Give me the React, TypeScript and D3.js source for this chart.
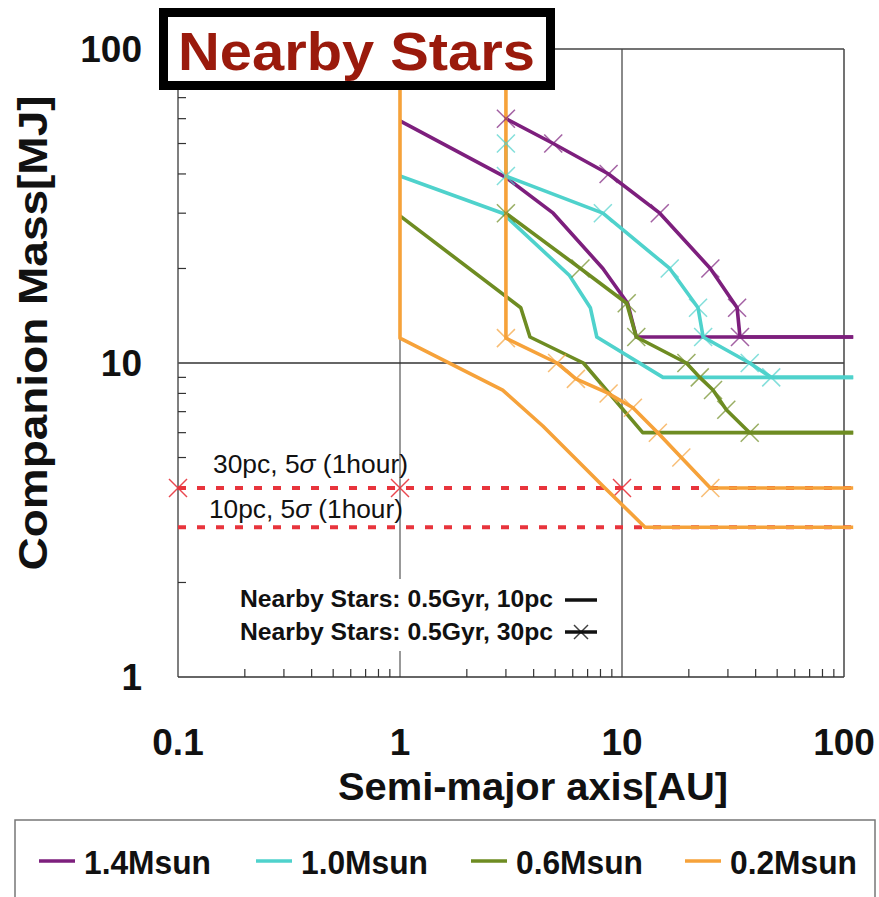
import * as d3 from "d3";

// semi-major axis [AU], companion mass [MJ]
const starNames = ["1.4Msun", "1.0Msun", "0.6Msun", "0.2Msun"];
const starColors = ["#7d1f7d", "#4fd2cc", "#6e8c22", "#f6a23a"];

// 10pc curves (solid)
const near14 = [[1, 59], [3, 39], [4.9, 30], [8.2, 20], [10.6, 15.5], [11.6, 12.1], [110, 12.1]];
const near10 = [[1, 39.4], [2.9, 30], [5.8, 19], [7.2, 15], [7.7, 12.1], [15.3, 9], [110, 9]];
const near06 = [[1, 29.4], [3.5, 15], [3.85, 12.1], [6.7, 10], [12.4, 6], [110, 6]];
const near02 = [[1, 100], [1, 12], [2.9, 8.2], [4.4, 6.3], [8.2, 4.06], [12.7, 3], [110, 3]];

// 30pc curves (with x markers)
const far14 = [[3, 60], [4.9, 50], [8.7, 40], [14.8, 30], [25, 20], [33, 15], [34, 12.1], [110, 12.1]];
const far10 = [[3, 50], [3, 39.4], [8.2, 30], [16.4, 20], [22, 15], [23.2, 12.1], [37.6, 10], [47, 9], [110, 9]];
const far06 = [[3, 30], [6.5, 20], [10.5, 15.5], [11.6, 12.1], [19.5, 10], [22.4, 9], [25.7, 8.2], [29.5, 7.1], [37.6, 6], [110, 6]];
const far02 = [[3, 100], [3, 12], [5.1, 10], [6.2, 8.9], [8.7, 8], [11.2, 7.2], [14.5, 6], [18.5, 5], [25, 4], [110, 4]];

// 5 sigma (1 hour) detection limits
const limit30pc = 4;
const limit10pc = 3;
const limitMarks = [0.1, 1, 10];

const xTicks = [0.1, 1, 10, 100];
const yTicks = [1, 10, 100];

const nearSeries = [near14, near10, near06, near02];
const farSeries = [far14, far10, far06, far02];

const W = 879, H = 897;
const x = d3.scaleLog().domain([0.1, 100]).range([178, 844]);
const y = d3.scaleLog().domain([1, 100]).range([677, 49]);

const line = d3.line<number[]>().x(d => x(d[0])).y(d => y(d[1]));

const ff = { fontFamily: "'Liberation Sans', Arial, sans-serif" };

function Cross({ cx, cy, r, color, sw = 1.5, op = 0.7 }: any) {
  return (
    <g stroke={color} strokeWidth={sw} opacity={op}>
      <line x1={cx - r} y1={cy - r} x2={cx + r} y2={cy + r} />
      <line x1={cx - r} y1={cy + r} x2={cx + r} y2={cy - r} />
    </g>
  );
}

export default function App() {
  const minorX: number[] = [];
  const minorY: number[] = [];
  [0.1, 1, 10].forEach(b => { for (let k = 2; k <= 9; k++) minorX.push(b * k); });
  [1, 10].forEach(b => { for (let k = 2; k <= 9; k++) minorY.push(b * k); });

  const [x0, x1] = x.range();
  const [y0, y1] = y.range();

  return (
    <svg width={W} height={H} style={{ position: "absolute", left: 0, top: 0, background: "#fff", ...ff }}>
      <rect width={W} height={H} fill="#fff" />

      {/* grid */}
      <line x1={x(1)} x2={x(1)} y1={y1} y2={y0} stroke="#777" strokeWidth={1.5} />
      <line x1={x(10)} x2={x(10)} y1={y1} y2={y0} stroke="#8a8a8a" strokeWidth={2} />
      <line x1={x0} x2={x1} y1={y(10)} y2={y(10)} stroke="#333" strokeWidth={1.5} />

      {/* frame */}
      <line x1={x0} x2={x0} y1={y1} y2={y0} stroke="#555" strokeWidth={1.5} />
      <line x1={x0} x2={x1} y1={y0} y2={y0} stroke="#333" strokeWidth={1.5} />
      <line x1={x1} x2={x1} y1={y1} y2={y0} stroke="#444" strokeWidth={1.5} />
      <line x1={x0} x2={x1} y1={y1} y2={y1} stroke="#444" strokeWidth={1.5} />

      {minorX.map(v => (
        <line key={"mx" + v} x1={x(v)} x2={x(v)} y1={y0} y2={y0 - 8} stroke="#333" strokeWidth={1.2} />
      ))}
      {minorY.map(v => (
        <line key={"my" + v} x1={x0} x2={x0 + 8} y1={y(v)} y2={y(v)} stroke="#333" strokeWidth={1.2} />
      ))}

      {/* detection limits */}
      {[limit30pc, limit10pc].map(v => (
        <line key={"lim" + v} x1={x0} x2={x(110)} y1={y(v)} y2={y(v)} stroke="#e8343c" strokeWidth={4} strokeDasharray="8,11" />
      ))}
      {limitMarks.map(v => (
        <Cross key={"lm" + v} cx={x(v)} cy={y(limit30pc)} r={9} color="#e8343c" op={0.9} />
      ))}

      {/* curves */}
      {nearSeries.map((s, i) => (
        <path key={"n" + i} d={line(s as any) || ""} fill="none" stroke={starColors[i]} strokeWidth={3.6} strokeLinejoin="round" />
      ))}
      {farSeries.map((s, i) => (
        <path key={"f" + i} d={line(s as any) || ""} fill="none" stroke={starColors[i]} strokeWidth={3.6} strokeLinejoin="round" />
      ))}
      {farSeries.map((s, i) =>
        s.filter(p => p[1] < 100 && p[0] < 100).map((p, j) => (
          <Cross key={"fm" + i + "-" + j} cx={x(p[0])} cy={y(p[1])} r={9} color={starColors[i]} />
        ))
      )}

      {/* limit labels */}
      <text x={213} y={473} style={ff} fontSize={25} fill="#111" textLength={195} lengthAdjust="spacingAndGlyphs">
        30pc, 5<tspan fontStyle="italic">σ</tspan> (1hour)
      </text>
      <text x={209} y={518} style={ff} fontSize={25} fill="#111" textLength={194} lengthAdjust="spacingAndGlyphs">
        10pc, 5<tspan fontStyle="italic">σ</tspan> (1hour)
      </text>

      {/* inner legend */}
      <rect x={232} y={579} width={370} height={72} fill="#fff" />
      <text x={240} y={607} style={ff} fontSize={23} fontWeight="bold" fill="#111" textLength={313} lengthAdjust="spacingAndGlyphs">
        Nearby Stars: 0.5Gyr, 10pc
      </text>
      <line x1={565} x2={597} y1={600} y2={600} stroke="#111" strokeWidth={3.5} />
      <text x={240} y={640} style={ff} fontSize={23} fontWeight="bold" fill="#111" textLength={313} lengthAdjust="spacingAndGlyphs">
        Nearby Stars: 0.5Gyr, 30pc
      </text>
      <line x1={565} x2={597} y1={632} y2={632} stroke="#111" strokeWidth={3.5} />
      <Cross cx={581} cy={632} r={7} color="#111" op={0.8} />

      {/* axis labels */}
      {yTicks.map(v => (
        <text key={"yt" + v} x={142} y={y(v) + 13} textAnchor="end" style={ff} fontSize={37} fontWeight="bold" fill="#111">
          {v}
        </text>
      ))}
      {xTicks.map(v => (
        <text key={"xt" + v} x={x(v)} y={755} textAnchor="middle" style={ff} fontSize={37} fontWeight="bold" fill="#111">
          {v}
        </text>
      ))}
      <text x={533} y={800} textAnchor="middle" style={ff} fontSize={38} fontWeight="bold" fill="#111" textLength={390} lengthAdjust="spacingAndGlyphs">
        Semi-major axis[AU]
      </text>
      <text transform="translate(47,333) rotate(-90)" textAnchor="middle" style={ff} fontSize={40} fontWeight="bold" fill="#111" textLength={475} lengthAdjust="spacingAndGlyphs">
        Companion Mass[MJ]
      </text>

      {/* title box */}
      <rect x={163.5} y={12.5} width={387} height={73} fill="#fff" stroke="#000" strokeWidth={9} />
      <text x={178} y={70} style={ff} fontSize={54} fontWeight="bold" fill="#9a1a0c" textLength={357} lengthAdjust="spacingAndGlyphs">
        Nearby Stars
      </text>

      {/* bottom legend */}
      <rect x={15} y={820} width={860} height={100} fill="#fff" stroke="#777" strokeWidth={1.5} />
      {starNames.map((n, i) => {
        const lx = [39, 256, 471, 685][i];
        return (
          <g key={n}>
            <line x1={lx} x2={lx + 36} y1={861} y2={861} stroke={starColors[i]} strokeWidth={3.5} />
            <text x={lx + 45} y={874} style={ff} fontSize={34} fontWeight="bold" fill="#111" textLength={127} lengthAdjust="spacingAndGlyphs">
              {n}
            </text>
          </g>
        );
      })}
    </svg>
  );
}
